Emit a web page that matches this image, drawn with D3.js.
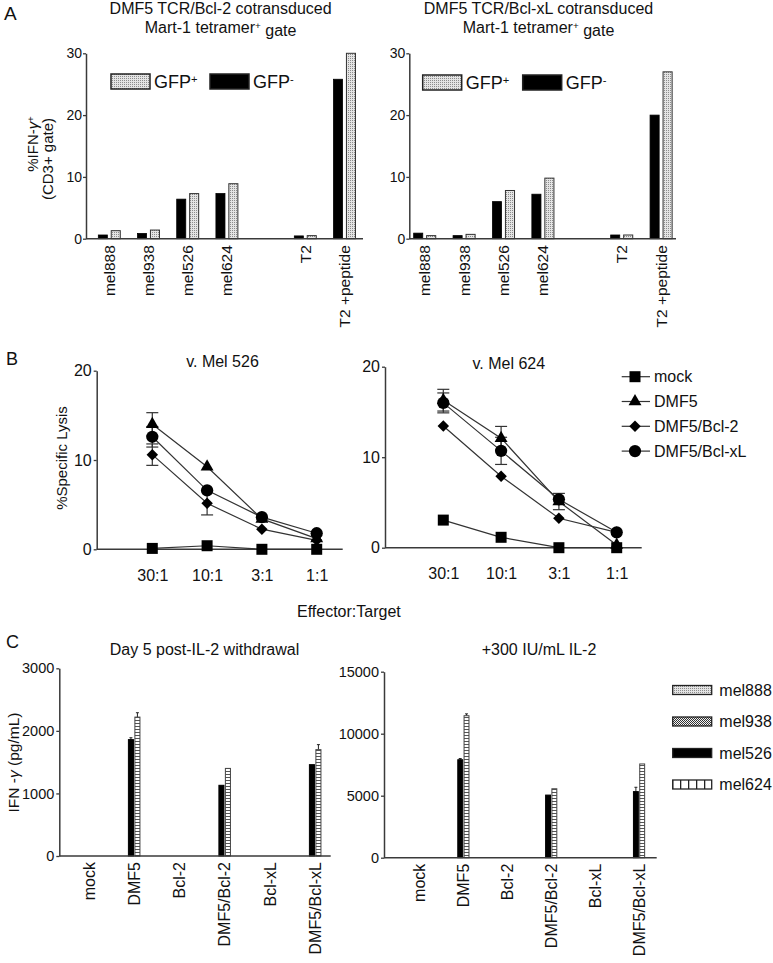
<!DOCTYPE html>
<html><head><meta charset="utf-8">
<script src="https://cdn.jsdelivr.net/npm/d3@7"></script>
<style>
body{margin:0;background:#fff}
svg text{font-family:"Liberation Sans",Arial,sans-serif;fill:#111}
</style></head><body>
<svg id="c" width="773" height="963"></svg>
<script>
// ---------- Panel A data ----------
const catsA = ["mel888","mel938","mel526","mel624"," ","T2","T2 +peptide"];
const bcl2GfpNeg  = [0.6, 0.85, 6.4, 7.3, null, 0.45, 25.8];
const bcl2GfpPos  = [1.3, 1.4, 7.3, 8.9, null, 0.5, 30.0];
const bclxlGfpNeg = [0.9, 0.5, 6.0, 7.2, null, 0.6, 20.0];
const bclxlGfpPos = [0.5, 0.7, 7.8, 9.8, null, 0.6, 27.0];
const ticksA = [0, 10, 20, 30];

// ---------- Panel B data ----------
const ratios = ["30:1","10:1","3:1","1:1"];
const seriesB = ["mock","DMF5","DMF5/Bcl-2","DMF5/Bcl-xL"];
const mel526Mock  = [0.1, 0.4, 0, 0];
const mel526DMF5  = [14.0, 9.25, 3.4, 1.2];
const mel526Bcl2  = [10.6, 5.15, 2.25, 1.0];
const mel526Bclxl = [12.6, 6.6, 3.6, 1.8];
const mel526MockErr  = [0, 0, 0, 0];
const mel526DMF5Err  = [1.3, 0, 0, 0];
const mel526Bcl2Err  = [1.2, 1.3, 0, 0];
const mel526BclxlErr = [1.15, 0, 0, 0];
const mel624Mock  = [3.05, 1.15, 0, 0];
const mel624DMF5  = [16.3, 12.1, 5.1, 0.3];
const mel624Bcl2  = [13.45, 7.9, 3.25, 1.7];
const mel624Bclxl = [16.0, 10.7, 5.35, 1.7];
const mel624MockErr  = [0, 0, 0, 0];
const mel624DMF5Err  = [1.2, 1.3, 0.9, 0];
const mel624Bcl2Err  = [0, 0, 0, 0];
const mel624BclxlErr = [1.1, 1.5, 0, 0];
const ticksB = [0, 10, 20];

// ---------- Panel C data ----------
const catsC = ["mock","DMF5","Bcl-2","DMF5/Bcl-2","Bcl-xL","DMF5/Bcl-xL"];
const targetsC = ["mel888","mel938","mel526","mel624"];
const day5Mel526 = [0, 1860, 0, 1130, 0, 1460];
const day5Mel624 = [0, 2220, 0, 1400, 0, 1700];
const day5Mel526Err = [0, 30, 0, 0, 0, 0];
const day5Mel624Err = [0, 70, 0, 0, 0, 80];
const il2Mel526 = [0, 7900, 0, 5050, 0, 5330];
const il2Mel624 = [0, 11450, 0, 5560, 0, 7560];
const il2Mel526Err = [0, 100, 0, 0, 0, 350];
const il2Mel624Err = [0, 150, 0, 0, 0, 0];
const ticksCday5 = [0, 1000, 2000, 3000];
const ticksCil2 = [0, 5000, 10000, 15000];

// ---------- setup ----------
const svg = d3.select("#c");
const defs = svg.append("defs");
function pat(id, w, h, draw){
  const p = defs.append("pattern").attr("id", id).attr("patternUnits","userSpaceOnUse")
    .attr("width", w).attr("height", h);
  draw(p);
}
pat("dots", 2, 2, p => {
  p.append("rect").attr("width",2).attr("height",2).attr("fill","#e4e4e4");
  p.append("rect").attr("width",1).attr("height",1).attr("fill","#8c8c8c");
});
pat("checker", 2, 2, p => {
  p.append("rect").attr("width",2).attr("height",2).attr("fill","#f4f4f4");
  p.append("rect").attr("width",1).attr("height",1).attr("fill","#333");
  p.append("rect").attr("x",1).attr("y",1).attr("width",1).attr("height",1).attr("fill","#333");
});
pat("ladder", 8, 3, p => {
  p.append("rect").attr("width",8).attr("height",3).attr("fill","#fff");
  p.append("rect").attr("y",0).attr("width",8).attr("height",1).attr("fill","#555");
});
pat("vlines", 8, 12, p => {
  p.append("rect").attr("width",8).attr("height",12).attr("fill","#fff");
  p.append("rect").attr("x",0).attr("width",1.3).attr("height",12).attr("fill","#222");
});

const AX = "#3a3a3a";
const fmt = d3.format("d");
function styleAxis(g, fs){
  g.selectAll("path.domain").attr("stroke", AX).attr("stroke-width", 1.5);
  g.selectAll(".tick line").attr("stroke", AX).attr("stroke-width", 1.3);
  g.selectAll("text").attr("font-size", fs).attr("fill","#111")
    .attr("font-family","Liberation Sans, Arial, sans-serif");
}
function hLine(x1, x2, y){
  svg.append("line").attr("x1",x1).attr("x2",x2).attr("y1",y).attr("y2",y)
    .attr("stroke",AX).attr("stroke-width",1.5);
}
function text(x, y, s, fs, anchor){
  return svg.append("text").attr("x",x).attr("y",y).attr("font-size",fs)
    .attr("text-anchor",anchor||"middle").text(s);
}
function rotLabel(cx, cy, fs){
  return svg.append("text").attr("transform",`translate(${cx},${cy}) rotate(-90)`)
    .attr("text-anchor","middle").attr("dy","0.35em").attr("font-size",fs);
}
function sup(t, s){
  t.append("tspan").attr("dy","-0.45em").attr("font-size","0.62em").text(s);
}

// panel letters
text(4, 20, "A", 19, "start");
text(6, 365, "B", 18, "start");
text(6, 648, "C", 18, "start");

// ---------- Panel A ----------
function panelA(cfg){
  const y = d3.scaleLinear().domain([0,30]).range([238.7, 53.3]);
  const x = d3.scaleBand().domain(catsA).range(cfg.xr).paddingInner(0.44).paddingOuter(0.22);
  const xs = d3.scaleBand().domain(["neg","pos"]).range([0, x.bandwidth()]).paddingInner(0.3);
  text(cfg.tx, 14, cfg.title, 16);
  const t2 = text(cfg.tx, 33, "Mart-1 tetramer", 16);
  sup(t2, "+");
  t2.append("tspan").attr("dy","0.45em").text(" gate");
  const g = svg.append("g");
  catsA.forEach((c, i) => {
    if (cfg.neg[i] != null) {
      g.append("rect").attr("x", x(c) + xs("neg")).attr("width", xs.bandwidth())
        .attr("y", y(cfg.neg[i])).attr("height", y(0) - y(cfg.neg[i]))
        .attr("fill","#000").attr("stroke","#000").attr("stroke-width",0.8);
    }
    if (cfg.pos[i] != null) {
      g.append("rect").attr("x", x(c) + xs("pos")).attr("width", xs.bandwidth())
        .attr("y", y(cfg.pos[i])).attr("height", y(0) - y(cfg.pos[i]))
        .attr("fill","url(#dots)").attr("stroke","#333").attr("stroke-width",1);
    }
  });
  const ya = svg.append("g").attr("transform",`translate(${cfg.x0},0)`)
    .call(d3.axisLeft(y).tickValues(ticksA).tickFormat(fmt).tickSize(3).tickSizeOuter(0).tickPadding(1));
  styleAxis(ya, 14);
  hLine(cfg.x0, cfg.xEnd, y(0));
  const xa = svg.append("g").attr("transform",`translate(0,${y(0)})`)
    .call(d3.axisBottom(x).tickSize(0));
  xa.select("path.domain").remove();
  styleAxis(xa, 15.5);
  xa.selectAll("text").attr("transform","rotate(-90)").attr("text-anchor","end")
    .attr("x",-6.5).attr("y",0).attr("dy","0.36em");
  svg.append("rect").attr("x",cfg.lg[0]).attr("y",cfg.lgy).attr("width",39).attr("height",15)
    .attr("fill","url(#dots)").attr("stroke","#222").attr("stroke-width",1.5);
  const l1 = svg.append("text").attr("x",cfg.lg[0]+43).attr("y",cfg.lgy+14)
    .attr("font-size",18).attr("font-family","Lato, sans-serif").text("GFP");
  sup(l1, "+");
  svg.append("rect").attr("x",cfg.lg[1]).attr("y",cfg.lgy).attr("width",39).attr("height",15)
    .attr("fill","#000").attr("stroke","#222").attr("stroke-width",1.5);
  const l2 = svg.append("text").attr("x",cfg.lg[1]+43).attr("y",cfg.lgy+14)
    .attr("font-size",18).attr("font-family","Lato, sans-serif").text("GFP");
  sup(l2, "-");
}
panelA({x0:86, xEnd:363, xr:[89.7, 364.1], tx:220.6, title:"DMF5 TCR/Bcl-2 cotransduced",
  neg:bcl2GfpNeg, pos:bcl2GfpPos, lg:[111, 210], lgy:74});
panelA({x0:409.3, xEnd:676, xr:[405, 680.8], tx:538.5, title:"DMF5 TCR/Bcl-xL cotransduced",
  neg:bclxlGfpNeg, pos:bclxlGfpPos, lg:[422.7, 522.7], lgy:75});

const ayl = rotLabel(33, 144, 15);
ayl.append("tspan").text("%IFN-");
ayl.append("tspan").attr("font-style","italic").text("γ");
sup(ayl, "+");
rotLabel(48, 159, 15).text("(CD3+ gate)");

// ---------- Panel B ----------
const symB = {
  "mock": d3.symbol().type(d3.symbolSquare).size(121)(),
  "DMF5": d3.symbol().type(d3.symbolTriangle).size(72)(),
  "DMF5/Bcl-2": d3.symbol().type(d3.symbolSquare).size(66)(),
  "DMF5/Bcl-xL": d3.symbol().type(d3.symbolCircle).size(118)()
};
const rotB = {"mock":0,"DMF5":0,"DMF5/Bcl-2":45,"DMF5/Bcl-xL":0};
function panelB(cfg){
  const y = d3.scaleLinear().domain([0,20]).range(cfg.yr);
  const x = d3.scalePoint().domain(ratios).range(cfg.xr);
  text(cfg.tx, cfg.ty, cfg.title, 16);
  const ya = svg.append("g").attr("transform",`translate(${cfg.x0},0)`)
    .call(d3.axisLeft(y).tickValues(ticksB).tickFormat(fmt).tickSize(3).tickSizeOuter(0).tickPadding(2));
  styleAxis(ya, 16);
  hLine(cfg.x0, cfg.xEnd, y(0));
  const xa = svg.append("g").attr("transform",`translate(0,${y(0)})`)
    .call(d3.axisBottom(x).tickSize(0).tickPadding(20));
  xa.select("path.domain").remove();
  styleAxis(xa, 16);
  const line = d3.line().x((d,i) => x(ratios[i])).y(d => y(d));
  cfg.series.forEach(s => {
    svg.append("path").attr("d", line(s.v)).attr("fill","none")
      .attr("stroke","#333").attr("stroke-width",1.2);
  });
  cfg.series.forEach(s => {
    s.e.forEach((e, i) => {
      if (!e) return;
      const cx = x(ratios[i]);
      svg.append("line").attr("x1",cx).attr("x2",cx).attr("y1",y(s.v[i]-e)).attr("y2",y(s.v[i]+e))
        .attr("stroke","#333").attr("stroke-width",1.2);
      [s.v[i]-e, s.v[i]+e].forEach(v => {
        svg.append("line").attr("x1",cx-6).attr("x2",cx+6).attr("y1",y(v)).attr("y2",y(v))
          .attr("stroke","#333").attr("stroke-width",1.2);
      });
    });
  });
  cfg.series.forEach(s => {
    s.v.forEach((v, i) => {
      svg.append("path").attr("d", symB[s.name])
        .attr("transform",`translate(${x(ratios[i])},${y(v)}) rotate(${rotB[s.name]})`)
        .attr("fill","#000");
    });
  });
}
panelB({x0:96.7, xEnd:342.7, yr:[549.3, 370.7], xr:[152.3, 316.7], tx:222.5, ty:366.7, title:"v. Mel 526",
  series:[
    {name:"mock", v:mel526Mock, e:mel526MockErr},
    {name:"DMF5", v:mel526DMF5, e:mel526DMF5Err},
    {name:"DMF5/Bcl-2", v:mel526Bcl2, e:mel526Bcl2Err},
    {name:"DMF5/Bcl-xL", v:mel526Bclxl, e:mel526BclxlErr}]});
panelB({x0:385, xEnd:641.7, yr:[547.7, 366.7], xr:[443.3, 616.7], tx:508.8, ty:369, title:"v. Mel 624",
  series:[
    {name:"mock", v:mel624Mock, e:mel624MockErr},
    {name:"DMF5", v:mel624DMF5, e:mel624DMF5Err},
    {name:"DMF5/Bcl-2", v:mel624Bcl2, e:mel624Bcl2Err},
    {name:"DMF5/Bcl-xL", v:mel624Bclxl, e:mel624BclxlErr}]});
rotLabel(61.7, 458, 15).text("%Specific Lysis");
text(297, 617, "Effector:Target", 16, "start");
seriesB.forEach((s, i) => {
  const yy = 376.7 + i * 24.8;
  svg.append("line").attr("x1",621.7).attr("x2",650).attr("y1",yy).attr("y2",yy)
    .attr("stroke","#333").attr("stroke-width",1.2);
  svg.append("path").attr("d", symB[s]).attr("transform",`translate(635,${yy}) rotate(${rotB[s]})`)
    .attr("fill","#000");
  svg.append("text").attr("x",654).attr("y",yy).attr("dy","0.36em").attr("font-size",16).text(s);
});

// ---------- Panel C ----------
const fillC = {"mel888":"url(#dots)","mel938":"url(#checker)","mel526":"#000","mel624":"url(#ladder)"};
function panelC(cfg){
  const y = d3.scaleLinear().domain(cfg.dom).range(cfg.yr);
  const x = d3.scaleBand().domain(catsC).range(cfg.xr).paddingInner(0.745).paddingOuter(0.3725);
  const xs = d3.scaleBand().domain(["mel526","mel624"]).range([0, x.bandwidth()]).paddingInner(0.22);
  text(cfg.tx, 655, cfg.title, 16);
  const sers = [{k:"mel526", v:cfg.a, e:cfg.ae}, {k:"mel624", v:cfg.b, e:cfg.be}];
  sers.forEach(s => {
    catsC.forEach((c, i) => {
      if (!s.v[i]) return;
      const bx = x(c) + xs(s.k), bw = xs.bandwidth();
      if (s.e[i]) {
        const cx = bx + bw/2;
        svg.append("line").attr("x1",cx).attr("x2",cx).attr("y1",y(s.v[i])).attr("y2",y(s.v[i]+s.e[i]))
          .attr("stroke","#222").attr("stroke-width",1);
        svg.append("line").attr("x1",cx-1.5).attr("x2",cx+1.5).attr("y1",y(s.v[i]+s.e[i])).attr("y2",y(s.v[i]+s.e[i]))
          .attr("stroke","#222").attr("stroke-width",1);
      }
      svg.append("rect").attr("x",bx).attr("width",bw).attr("y",y(s.v[i])).attr("height",y(0)-y(s.v[i]))
        .attr("fill",fillC[s.k]).attr("stroke", s.k === "mel526" ? "#000" : "#444").attr("stroke-width",1);
    });
  });
  const ya = svg.append("g").attr("transform",`translate(${cfg.x0},0)`)
    .call(d3.axisLeft(y).tickValues(cfg.ticks).tickFormat(fmt).tickSize(3).tickSizeOuter(0).tickPadding(2));
  styleAxis(ya, 14.5);
  hLine(cfg.x0, cfg.xEnd, y(0));
  const xa = svg.append("g").attr("transform",`translate(0,${y(0)})`)
    .call(d3.axisBottom(x).tickSize(0));
  xa.select("path.domain").remove();
  styleAxis(xa, 16);
  xa.selectAll("text").attr("transform","rotate(-90)").attr("text-anchor","end")
    .attr("x",-6).attr("y",0).attr("dy","0.36em");
}
panelC({dom:[0,3000], yr:[856, 668.3], x0:59.3, xEnd:330.7, xr:[66.3, 337.8], tx:204.5,
  title:"Day 5 post-IL-2 withdrawal", ticks:ticksCday5,
  a:day5Mel526, ae:day5Mel526Err, b:day5Mel624, be:day5Mel624Err});
panelC({dom:[0,15000], yr:[857.7, 671.7], x0:384, xEnd:656.7, xr:[397.5, 661], tx:539,
  title:"+300 IU/mL IL-2", ticks:ticksCil2,
  a:il2Mel526, ae:il2Mel526Err, b:il2Mel624, be:il2Mel624Err});
const cyl = rotLabel(14, 762.5, 15.5);
cyl.append("tspan").text("IFN -");
cyl.append("tspan").attr("font-style","italic").text("γ");
cyl.append("tspan").text(" (pg/mL)");
const legFill = {"mel888":"url(#dots)","mel938":"url(#checker)","mel526":"#000","mel624":"url(#vlines)"};
targetsC.forEach((t, i) => {
  const yy = 690 + i * 31.5;
  svg.append("rect").attr("x",672.7).attr("y",yy-4.5).attr("width",39).attr("height",9)
    .attr("fill",legFill[t]).attr("stroke","#222").attr("stroke-width",1.3);
  svg.append("text").attr("x",719.3).attr("y",yy).attr("dy","0.36em").attr("font-size",16).text(t);
});
</script>
</body></html>
